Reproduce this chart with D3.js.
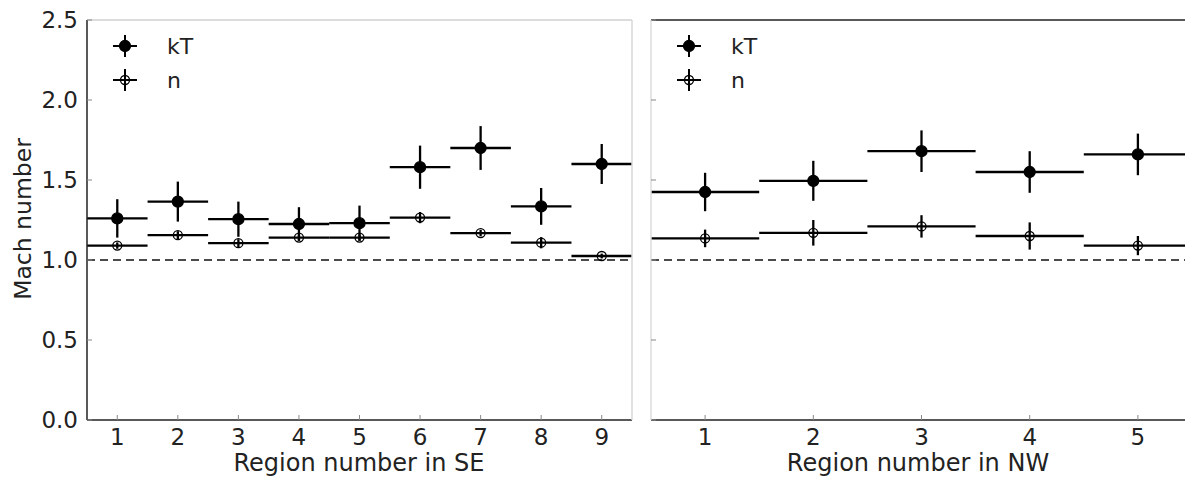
<!DOCTYPE html>
<meta charset="utf-8">

<!-- Load d3.js -->
<script src="https://d3js.org/d3.v7.min.js"></script>
<style>body { margin: 0; background: #fff; }</style>

<div id="my_dataviz"></div>

<script>

// SE regions
var seRegion = [1, 2, 3, 4, 5, 6, 7, 8, 9];
var seKT     = [1.26, 1.365, 1.255, 1.225, 1.23, 1.58, 1.70, 1.335, 1.60];
var seKTerr  = [0.12, 0.125, 0.11, 0.105, 0.11, 0.135, 0.137, 0.115, 0.125];
var seN      = [1.09, 1.155, 1.105, 1.14, 1.14, 1.265, 1.168, 1.108, 1.025];
var seNerr   = [0.02, 0.025, 0.025, 0.02, 0.02, 0.035, 0.02, 0.035, 0.015];

// NW regions
var nwRegion = [1, 2, 3, 4, 5];
var nwKT     = [1.425, 1.495, 1.68, 1.55, 1.66];
var nwKTerr  = [0.12, 0.125, 0.13, 0.13, 0.13];
var nwN      = [1.135, 1.17, 1.21, 1.15, 1.09];
var nwNerr   = [0.055, 0.08, 0.07, 0.085, 0.06];

var yTicks = [0, 0.5, 1.0, 1.5, 2.0, 2.5];
var legendLabels = ["kT", "n"];

var svg = d3.select("#my_dataviz")
  .append("svg")
    .attr("width", 1185)
    .attr("height", 481)
    .style("font-family", "DejaVu Sans")
    .style("font-size", "23px");

var y = d3.scaleLinear().domain([0, 2.5]).range([420, 20]);

function makeSeries(regions, vals, errs) {
  return regions.map(function(r, i) { return {r: r, v: vals[i], e: errs[i]}; });
}

function drawPanel(p) {
  var x = d3.scaleLinear().domain(p.domain).range(p.range);
  var left = p.range[0], right = p.range[1];
  var g = svg.append("g");

  // reference line at Mach 1
  g.append("line")
    .attr("x1", left).attr("x2", right)
    .attr("y1", y(1)).attr("y2", y(1))
    .attr("stroke", "#111")
    .attr("stroke-width", 1.5)
    .attr("stroke-dasharray", "8,5");

  // error bars + markers
  [{d: p.kt, filled: true}, {d: p.n, filled: false}].forEach(function(s) {
    var eb = g.append("g");
    eb.selectAll("hbar").data(s.d).enter().append("line")
      .attr("x1", function(d) { return x(d.r - 0.5); })
      .attr("x2", function(d) { return x(d.r + 0.5); })
      .attr("y1", function(d) { return y(d.v); })
      .attr("y2", function(d) { return y(d.v); })
      .attr("stroke", "#000")
      .attr("stroke-width", 2.3);
    eb.selectAll("vbar").data(s.d).enter().append("line")
      .attr("x1", function(d) { return x(d.r); })
      .attr("x2", function(d) { return x(d.r); })
      .attr("y1", function(d) { return y(d.v - d.e); })
      .attr("y2", function(d) { return y(d.v + d.e); })
      .attr("stroke", "#000")
      .attr("stroke-width", 2.3);
    eb.selectAll("mk").data(s.d).enter().append("circle")
      .attr("cx", function(d) { return x(d.r); })
      .attr("cy", function(d) { return y(d.v); })
      .attr("r", s.filled ? 5.5 : 4.5)
      .attr("fill", s.filled ? "#000" : "none")
      .attr("stroke", "#000")
      .attr("stroke-width", 1.3);
  });

  // spines
  var spine = function(x1, y1, x2, y2, c) {
    g.append("line").attr("x1", x1).attr("y1", y1).attr("x2", x2).attr("y2", y2)
      .attr("stroke", c).attr("stroke-width", 1.5);
  };
  spine(left, y(0), right, y(0), "#222");
  spine(left, y(2.5), right, y(2.5), p.topColor);
  spine(left, y(0), left, y(2.5), p.leftColor);
  spine(right, y(0), right, y(2.5), "#d8d8d8");

  // y ticks (inward)
  g.selectAll("yt").data(yTicks).enter().append("line")
    .attr("x1", left).attr("x2", left + 5)
    .attr("y1", function(d) { return y(d); })
    .attr("y2", function(d) { return y(d); })
    .attr("stroke", "#888").attr("stroke-width", 1);
  if (p.yLabels) {
    g.selectAll("ytl").data(yTicks).enter().append("text")
      .attr("x", left - 9)
      .attr("y", function(d) { return y(d); })
      .attr("dy", "0.36em")
      .attr("text-anchor", "end")
      .attr("fill", "#222")
      .text(function(d) { return d3.format(".1f")(d); });
  }

  // x ticks (inward)
  g.selectAll("xt").data(p.ticks).enter().append("line")
    .attr("x1", function(d) { return x(d); })
    .attr("x2", function(d) { return x(d); })
    .attr("y1", y(0)).attr("y2", y(0) - 5)
    .attr("stroke", "#888").attr("stroke-width", 1);
  g.selectAll("xtl").data(p.ticks).enter().append("text")
    .attr("x", function(d) { return x(d); })
    .attr("y", 445)
    .attr("text-anchor", "middle")
    .attr("fill", "#222")
    .text(function(d) { return d; });

  g.append("text")
    .attr("x", p.labelX)
    .attr("y", 471)
    .attr("text-anchor", "middle")
    .attr("fill", "#222")
    .style("font-size", "24px")
    .text(p.xLabel);

  // legend
  legendLabels.forEach(function(lab, i) {
    var ly = 46 + i * 34, lx = left + 38;
    g.append("line").attr("x1", lx - 12).attr("x2", lx + 12).attr("y1", ly).attr("y2", ly)
      .attr("stroke", "#000").attr("stroke-width", 2);
    g.append("line").attr("x1", lx).attr("x2", lx).attr("y1", ly - 11).attr("y2", ly + 11)
      .attr("stroke", "#000").attr("stroke-width", 2);
    g.append("circle").attr("cx", lx).attr("cy", ly)
      .attr("r", i == 0 ? 5.5 : 4.5)
      .attr("fill", i == 0 ? "#000" : "none")
      .attr("stroke", "#000").attr("stroke-width", 1.3);
    g.append("text").attr("x", left + 80).attr("y", ly).attr("dy", "0.36em")
      .attr("fill", "#222").style("font-size", "22px").text(lab);
  });
}

drawPanel({
  domain: [0.5, 9.5], range: [87, 632],
  kt: makeSeries(seRegion, seKT, seKTerr),
  n: makeSeries(seRegion, seN, seNerr),
  ticks: seRegion, yLabels: true,
  topColor: "#d0d0d0", leftColor: "#222",
  xLabel: "Region number in SE", labelX: 359
});

drawPanel({
  domain: [0.5, 5.5], range: [651, 1192],
  kt: makeSeries(nwRegion, nwKT, nwKTerr),
  n: makeSeries(nwRegion, nwN, nwNerr),
  ticks: nwRegion, yLabels: false,
  topColor: "#222", leftColor: "#dcdcdc",
  xLabel: "Region number in NW", labelX: 918
});

// y axis label
svg.append("text")
  .attr("transform", "translate(31,219)rotate(-90)")
  .attr("text-anchor", "middle")
  .attr("fill", "#222")
  .style("font-size", "23.5px")
  .text("Mach number");

</script>
